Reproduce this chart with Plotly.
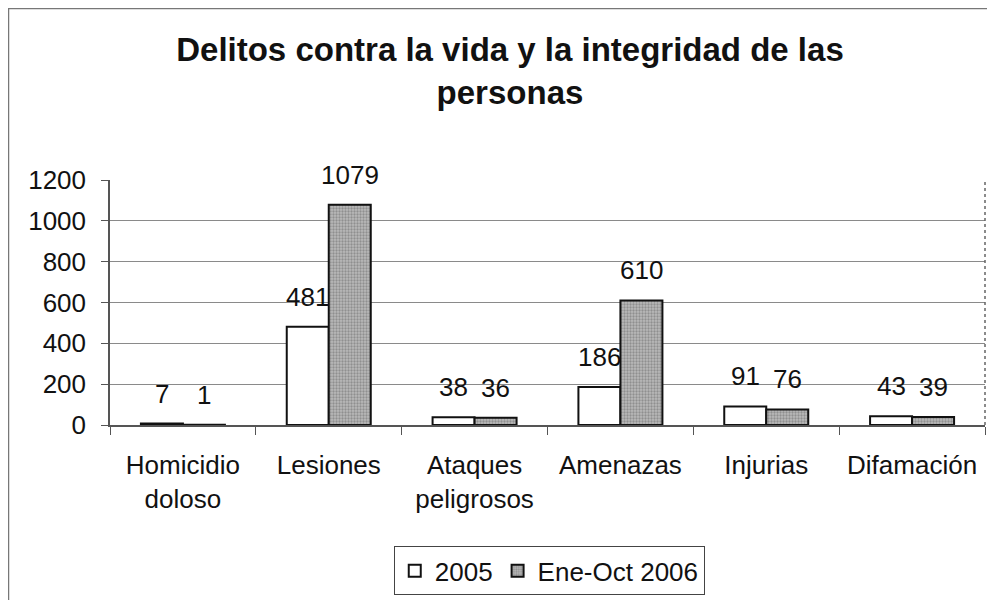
import plotly.graph_objects as go

# data
categories = ["Homicidio<br>doloso", "Lesiones", "Ataques<br>peligrosos",
              "Amenazas", "Injurias", "Difamación"]
values_2005 = [7, 481, 38, 186, 91, 43]
values_2006 = [1, 1079, 36, 610, 76, 39]
series_names = ["2005", "Ene-Oct 2006"]
y_ticks = [0, 200, 400, 600, 800, 1000, 1200]

FONT = "Liberation Sans, Arial, sans-serif"

fig = go.Figure()
fig.add_trace(go.Bar(
    x=categories, y=values_2005, name=series_names[0],
    marker=dict(color="white", line=dict(color="#111", width=2)),
))
fig.add_trace(go.Bar(
    x=categories, y=values_2006, name=series_names[1],
    marker=dict(color="#a8a8a8", line=dict(color="#111", width=2),
                pattern=dict(shape=".", fgcolor="#666", bgcolor="#b9b9b9",
                             size=3, solidity=0.45)),
))

# data labels sit ~30px above each bar
annotations = []
for vals, dx in ((values_2005, -21), (values_2006, 21)):
    for cat, v in zip(categories, vals):
        annotations.append(dict(
            x=cat, y=v, xref="x", yref="y", text=str(v), showarrow=False,
            xshift=dx, yshift=30, yanchor="middle",
            font=dict(family=FONT, size=26, color="#111"),
        ))

fig.update_layout(
    width=995, height=600,
    # the page body adds an 8px offset, margins compensate for it
    margin=dict(l=102, r=18, t=172, b=183),
    paper_bgcolor="white", plot_bgcolor="white",
    barmode="group", bargap=0.424, bargroupgap=0,
    title=dict(text="<b>Delitos contra la vida y la integridad de las<br>personas</b>",
               x=0.5045, xanchor="center", y=0.912, yanchor="middle",
               font=dict(family=FONT, size=33, color="#111")),
    font=dict(family=FONT, size=26, color="#111"),
    showlegend=True,
    legend=dict(orientation="h", x=0.502, xanchor="center", y=-0.495, yanchor="top",
                bordercolor="#444", borderwidth=1, font=dict(size=26),
                itemwidth=30, tracegroupgap=0),
    annotations=annotations,
    shapes=[
        # outer chart frame
        dict(type="rect", xref="paper", yref="paper",
             x0=-0.1160, x1=1.2, y0=-0.8, y1=1.700,
             line=dict(color="#777", width=1.5)),
        # dotted right border of plot area
        dict(type="line", xref="paper", yref="paper", x0=1, x1=1, y0=0, y1=1,
             line=dict(color="#666", width=1.5, dash="dot")),
    ],
)

fig.update_yaxes(range=[0, 1200], tickvals=y_ticks, showgrid=True,
                 gridcolor="#8a8a8a", gridwidth=1,
                 showline=True, linecolor="#555", linewidth=1.5,
                 ticks="outside", ticklen=7, tickcolor="#555",
                 ticklabelstandoff=10, zeroline=False, automargin=False,
                 tickfont=dict(size=26))
fig.update_xaxes(showline=True, linecolor="#555", linewidth=1.5,
                 ticks="outside", tickson="boundaries", ticklen=8,
                 tickcolor="#555", ticklabelstandoff=16, automargin=False,
                 tickfont=dict(size=26))

fig.write_html("out.html")
